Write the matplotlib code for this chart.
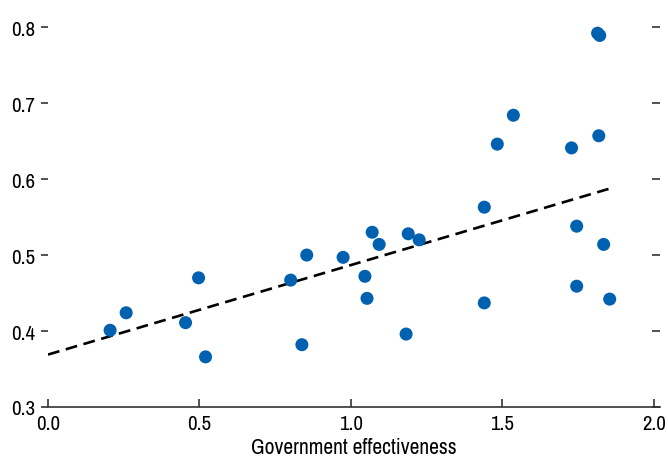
import matplotlib
matplotlib.use('Agg')
import matplotlib.pyplot as plt
from matplotlib import font_manager

# Data
gov_eff = [0.205, 0.258, 0.454, 0.497, 0.52, 0.801, 0.838, 0.854, 0.974,
           1.046, 1.053, 1.07, 1.093, 1.182, 1.189, 1.225, 1.44, 1.44,
           1.483, 1.536, 1.728, 1.745, 1.745, 1.814, 1.821, 1.818, 1.834, 1.854]
outcome = [0.401, 0.424, 0.411, 0.470, 0.366, 0.467, 0.382, 0.500, 0.497,
           0.472, 0.443, 0.530, 0.514, 0.396, 0.528, 0.520, 0.563, 0.437,
           0.646, 0.684, 0.641, 0.538, 0.459, 0.792, 0.789, 0.657, 0.514, 0.442]

# Fitted line end points
trend_x = [0.0, 1.85]
trend_y = [0.369, 0.587]

xticks = [0.0, 0.5, 1.0, 1.5, 2.0]
yticks = [0.3, 0.4, 0.5, 0.6, 0.7, 0.8]

# look for a narrow sans face
fonts = font_manager.fontManager.ttflist
family, stretch = 'Roboto', 'normal'
for f in fonts:
    if 'Narrow' in f.name or 'Condensed' in f.name:
        family = f.name
        break
else:
    for f in fonts:
        if f.name in ('DejaVu Sans', 'Roboto', 'Open Sans') and f.stretch in ('condensed', 'semi-condensed'):
            family, stretch = f.name, f.stretch
            break
plt.rcParams['font.family'] = [family, 'DejaVu Sans']
plt.rcParams['font.stretch'] = stretch

fig = plt.figure(figsize=(6.68, 4.6), dpi=100)
ax = fig.add_axes([48 / 668, 52 / 460, 612 / 668, 408 / 460])

ax.scatter(gov_eff, outcome, s=88, color='#0061b0', edgecolors='none', zorder=3)
ax.plot(trend_x, trend_y, color='black', linestyle=(0, (4.5, 2.5)), linewidth=1.9, zorder=2)

ax.set_xlim(0, 2.02)
ax.set_ylim(0.3, 0.837)
ax.set_xticks(xticks)
ax.set_xticklabels([f'{v:.1f}' for v in xticks])
ax.set_yticks(yticks)
ax.set_yticklabels([f'{v:.1f}' for v in yticks])

for side in ['top', 'left', 'right']:
    ax.spines[side].set_visible(False)
ax.spines['bottom'].set_color('#333333')
ax.spines['bottom'].set_linewidth(1.2)

ax.tick_params(axis='x', direction='in', length=6, width=1.2, color='#333333',
               labelsize=15, pad=5)
ax.tick_params(axis='y', direction='out', length=5, width=1.2, color='#333333',
               labelsize=15, pad=4, right=True)
ax.tick_params(axis='y', which='both', labelright=False)
for t in ax.yaxis.get_major_ticks():
    t.tick2line.set_marker(matplotlib.lines.TICKLEFT)
    t.tick2line.set_markersize(6)

ax.set_xlabel('Government effectiveness', fontsize=15.5, labelpad=3)

fig.savefig('out.png', dpi=100)
